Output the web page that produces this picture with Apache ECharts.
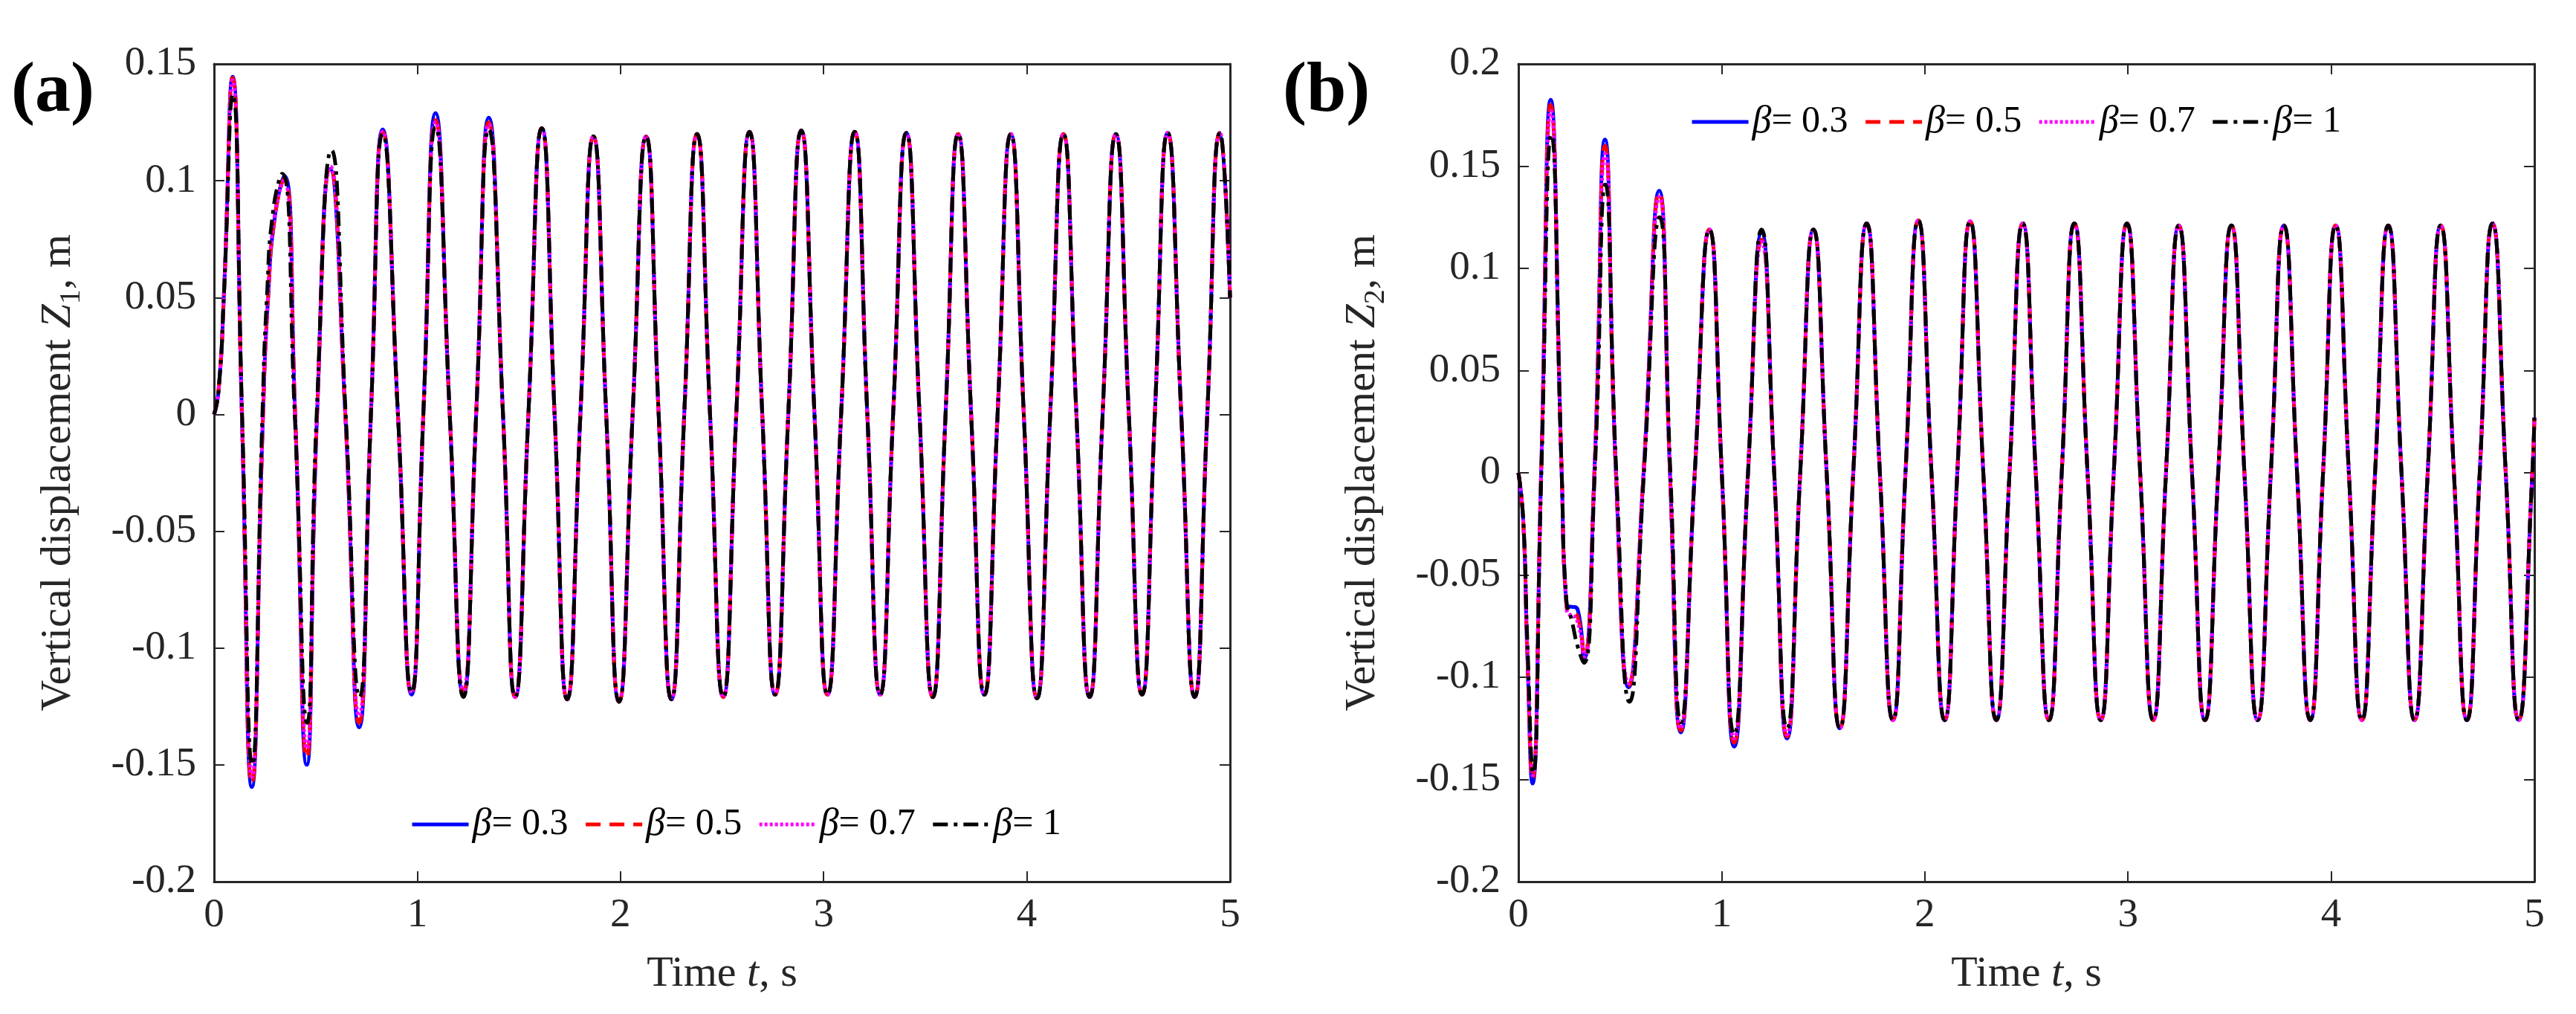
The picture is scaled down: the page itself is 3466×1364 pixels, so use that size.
<!DOCTYPE html>
<html>
<head>
<meta charset="utf-8">
<title>Vertical displacement Z1 / Z2</title>
<script src="https://cdn.jsdelivr.net/npm/echarts@6/dist/echarts.min.js"></script>
<style>
  html, body { margin: 0; padding: 0; background: #fff; }
  #chart { width: 3466px; height: 1364px; }
</style>
</head>
<body>
<div id="chart"></div>
<script>
// legend names, one per damping ratio
const betaNames = ['β = 0.3', 'β = 0.5', 'β = 0.7', 'β = 1'];

// tick values
const xTicks = [0, 1, 2, 3, 4, 5];
const yTicksA = [-0.2, -0.15, -0.1, -0.05, 0, 0.05, 0.1, 0.15];
const yTicksB = [-0.2, -0.15, -0.1, -0.05, 0, 0.05, 0.1, 0.15, 0.2];

// (a) Z1 - start-up part, read per series  [t (s), Z1 (m)]
const z1Beta03Start = [[0, 0], [0.022, 0.01], [0.048, 0.05], [0.091, 0.1445], [0.137, 0], [0.186, -0.1595], [0.241, 0], [0.266, 0.05], [0.300, 0.085], [0.346, 0.102], [0.399, 0], [0.456, -0.150], [0.507, 0], [0.571, 0.105], [0.646, 0], [0.714, -0.134], [0.772, 0], [0.830, 0.122], [0.905, 0], [0.972, -0.120], [1.030, 0], [1.090, 0.129], [1.160, 0], [1.227, -0.120], [1.290, 0], [1.352, 0.127], [1.422, 0]];
const z1Beta05Start = [[0, 0], [0.022, 0.01], [0.048, 0.05], [0.091, 0.144], [0.137, 0], [0.186, -0.158], [0.241, 0], [0.266, 0.05], [0.300, 0.085], [0.345, 0.101], [0.399, 0], [0.456, -0.147], [0.507, 0], [0.572, 0.106], [0.646, 0], [0.714, -0.132], [0.772, 0], [0.830, 0.121], [0.905, 0], [0.972, -0.1195], [1.030, 0], [1.090, 0.126], [1.160, 0], [1.227, -0.119], [1.290, 0], [1.352, 0.125], [1.422, 0]];
const z1Beta07Start = [[0, 0], [0.022, 0.01], [0.048, 0.05], [0.091, 0.143], [0.137, 0], [0.187, -0.155], [0.241, 0], [0.265, 0.05], [0.298, 0.085], [0.343, 0.100], [0.399, 0], [0.457, -0.143], [0.507, 0], [0.573, 0.106], [0.646, 0], [0.714, -0.129], [0.772, 0], [0.830, 0.121], [0.905, 0], [0.972, -0.119], [1.030, 0], [1.090, 0.125], [1.160, 0], [1.227, -0.118], [1.290, 0], [1.352, 0.124], [1.422, 0]];
const z1Beta1Start = [[0, 0], [0.022, 0.01], [0.048, 0.05], [0.092, 0.137], [0.138, 0], [0.188, -0.150], [0.238, 0], [0.260, 0.05], [0.292, 0.088], [0.335, 0.103], [0.397, 0], [0.458, -0.132], [0.505, 0], [0.578, 0.113], [0.648, 0], [0.716, -0.121], [0.772, 0], [0.830, 0.120], [0.905, 0], [0.972, -0.119], [1.030, 0], [1.090, 0.123], [1.160, 0], [1.227, -0.121], [1.290, 0], [1.352, 0.122], [1.422, 0]];
// (a) Z1 - settled oscillation, all four curves lie on top of each other
const z1Steady = [[1.482, -0.121], [1.547, 0], [1.613, 0.1225], [1.676, 0], [1.738, -0.122], [1.803, 0], [1.867, 0.119], [1.930, 0], [1.993, -0.123], [2.060, 0], [2.126, 0.119], [2.188, 0], [2.251, -0.122], [2.314, 0], [2.377, 0.120], [2.441, 0], [2.506, -0.121], [2.570, 0], [2.635, 0.121], [2.698, 0], [2.761, -0.120], [2.826, 0], [2.890, 0.1215], [2.955, 0], [3.019, -0.120], [3.086, 0], [3.153, 0.121], [3.215, 0], [3.278, -0.120], [3.342, 0], [3.407, 0.1205], [3.472, 0], [3.537, -0.121], [3.600, 0], [3.662, 0.120], [3.726, 0], [3.791, -0.120], [3.856, 0], [3.921, 0.120], [3.985, 0], [4.050, -0.1215], [4.115, 0], [4.180, 0.120], [4.244, 0], [4.309, -0.121], [4.373, 0], [4.438, 0.120], [4.502, 0], [4.567, -0.120], [4.630, 0], [4.693, 0.1205], [4.760, 0], [4.826, -0.121], [4.888, 0], [4.951, 0.1205], [5.0, 0.05]];

// (b) Z2 - start-up part  [t (s), Z2 (m)]
const z2Beta03Start = [[0, 0], [0.024, -0.024], [0.043, -0.086], [0.069, -0.152], [0.112, 0], [0.159, 0.1825], [0.213, 0], [0.236, -0.064], [0.292, -0.067], [0.322, -0.091], [0.374, 0], [0.426, 0.163], [0.480, 0], [0.542, -0.105], [0.616, 0], [0.693, 0.138], [0.746, 0], [0.799, -0.127], [0.868, 0], [0.940, 0.119], [1.001, 0], [1.062, -0.134], [1.130, 0], [1.197, 0.1175], [1.259, 0], [1.322, -0.130], [1.387, 0], [1.452, 0.119], [1.517, 0]];
const z2Beta05Start = [[0, 0], [0.024, -0.024], [0.043, -0.085], [0.069, -0.150], [0.112, 0], [0.159, 0.180], [0.213, 0], [0.237, -0.066], [0.290, -0.070], [0.322, -0.089], [0.374, 0], [0.426, 0.160], [0.480, 0], [0.542, -0.104], [0.616, 0], [0.693, 0.137], [0.746, 0], [0.799, -0.126], [0.868, 0], [0.940, 0.119], [1.001, 0], [1.062, -0.132], [1.130, 0], [1.197, 0.114], [1.259, 0], [1.322, -0.129], [1.387, 0], [1.452, 0.119], [1.517, 0]];
const z2Beta07Start = [[0, 0], [0.024, -0.024], [0.043, -0.084], [0.070, -0.148], [0.112, 0], [0.160, 0.177], [0.213, 0], [0.238, -0.067], [0.288, -0.072], [0.322, -0.090], [0.374, 0], [0.427, 0.156], [0.480, 0], [0.543, -0.103], [0.616, 0], [0.694, 0.135], [0.746, 0], [0.799, -0.125], [0.868, 0], [0.940, 0.119], [1.001, 0], [1.062, -0.130], [1.130, 0], [1.197, 0.113], [1.259, 0], [1.322, -0.128], [1.387, 0], [1.452, 0.119], [1.517, 0]];
const z2Beta1Start = [[0, 0], [0.024, -0.023], [0.044, -0.082], [0.072, -0.147], [0.113, 0], [0.162, 0.1655], [0.213, 0], [0.236, -0.062], [0.262, -0.072], [0.292, -0.085], [0.322, -0.093], [0.376, 0], [0.428, 0.141], [0.482, 0], [0.547, -0.112], [0.618, 0], [0.695, 0.125], [0.748, 0], [0.800, -0.122], [0.868, 0], [0.940, 0.119], [1.001, 0], [1.062, -0.128], [1.130, 0], [1.197, 0.119], [1.259, 0], [1.322, -0.125], [1.387, 0], [1.452, 0.119], [1.517, 0]];
// (b) Z2 - settled oscillation
const z2Steady = [[1.582, -0.125], [1.648, 0], [1.714, 0.122], [1.779, 0], [1.843, -0.121], [1.905, 0], [1.968, 0.1235], [2.033, 0], [2.098, -0.121], [2.160, 0], [2.223, 0.123], [2.288, 0], [2.352, -0.121], [2.417, 0], [2.482, 0.122], [2.546, 0], [2.611, -0.121], [2.674, 0], [2.736, 0.122], [2.801, 0], [2.866, -0.121], [2.930, 0], [2.995, 0.122], [3.060, 0], [3.124, -0.121], [3.187, 0], [3.250, 0.121], [3.315, 0], [3.379, -0.121], [3.444, 0], [3.509, 0.121], [3.573, 0], [3.638, -0.121], [3.703, 0], [3.767, 0.121], [3.832, 0], [3.897, -0.121], [3.960, 0], [4.022, 0.121], [4.087, 0], [4.151, -0.121], [4.216, 0], [4.281, 0.121], [4.346, 0], [4.410, -0.121], [4.475, 0], [4.539, 0.121], [4.604, 0], [4.668, -0.121], [4.731, 0], [4.794, 0.122], [4.859, 0], [4.923, -0.121], [4.990, 0], [5.0, 0.027]];

const z1Starts = [z1Beta03Start, z1Beta05Start, z1Beta07Start, z1Beta1Start];
const z2Starts = [z2Beta03Start, z2Beta05Start, z2Beta07Start, z2Beta1Start];

// look of each curve (MATLAB: b-, r--, m:, k-.)
const lineColors = ['#0000ff', '#ff0000', '#ff00ff', '#000000'];
const lineDashes = ['solid', [20, 12], [4, 3], [20, 8, 5, 8]];

const font = "'Liberation Serif', 'Times New Roman', serif";
const ink = '#262626';

const chart = echarts.init(document.getElementById('chart'), null, { renderer: 'canvas' });

function nameStyle() {
  return {
    fontFamily: font,
    fontSize: 58,
    color: ink,
    rich: {
      n: { fontFamily: font, fontSize: 58, color: ink, lineHeight: 74 },
      i: { fontFamily: font, fontSize: 58, color: ink, fontStyle: 'italic', lineHeight: 74 },
      s: { fontFamily: font, fontSize: 40, color: ink, lineHeight: 40, verticalAlign: 'bottom' }
    }
  };
}

function xAxisOf(grid, pos) {
  const bottom = pos === 'bottom';
  return {
    type: 'value',
    gridIndex: grid,
    position: pos,
    min: xTicks[0],
    max: xTicks[xTicks.length - 1],
    interval: 1,
    axisLine: { show: true, onZero: false, lineStyle: { color: ink, width: 3 } },
    axisTick: { show: true, inside: true, length: 14, lineStyle: { color: ink, width: 2 } },
    axisLabel: { show: bottom, margin: 18, fontFamily: font, fontSize: 55, color: ink },
    splitLine: { show: false },
    name: bottom ? '{n|Time }{i|t}{n|, s}' : '',
    nameLocation: 'middle',
    nameGap: 88,
    nameTextStyle: nameStyle()
  };
}

function yAxisOf(grid, pos, ticks, sub) {
  const left = pos === 'left';
  return {
    type: 'value',
    gridIndex: grid,
    position: pos,
    min: ticks[0],
    max: ticks[ticks.length - 1],
    interval: 0.05,
    axisLine: { show: true, onZero: false, lineStyle: { color: ink, width: 3 } },
    axisTick: { show: true, inside: true, length: 14, lineStyle: { color: ink, width: 2 } },
    axisLabel: { show: left, margin: 24, fontFamily: font, fontSize: 55, color: ink },
    splitLine: { show: false },
    name: left ? '{n|Vertical displacement }{i|Z}{s|' + sub + '}{n|, m}' : '',
    nameLocation: 'middle',
    nameRotate: 90,
    nameGap: 172,
    nameTextStyle: nameStyle()
  };
}

function makeSeries(panel, starts, steady) {
  return betaNames.map((name, i) => ({
    name: name,
    type: 'line',
    xAxisIndex: panel * 2,
    yAxisIndex: panel * 2,
    data: starts[i].concat(steady),
    symbol: 'none',
    showSymbol: false,
    smooth: 0.55,
    lineStyle: { color: lineColors[i], width: 5, type: lineDashes[i] },
    itemStyle: { color: lineColors[i] }
  }));
}

function legendAt(left, top) {
  return {
    data: betaNames,
    orient: 'horizontal',
    left: left,
    top: top,
    padding: 0,
    itemGap: 21,
    itemWidth: 76,
    itemHeight: 50,
    lineStyle: { width: 5 },
    itemStyle: { opacity: 0 },
    selectedMode: false,
    // MATLAB TeX: "\beta = 0.3" shows as an italic beta tight against "="
    formatter: (name) => '{i|β}{n|' + name.substring(2) + '}',
    textStyle: {
      fontFamily: font,
      fontSize: 50,
      color: '#000',
      rich: {
        i: { fontFamily: font, fontSize: 52, fontStyle: 'italic', color: '#000' },
        n: { fontFamily: font, fontSize: 50, color: '#000' }
      }
    }
  };
}

const option = {
  backgroundColor: '#ffffff',
  animation: false,
  title: [
    { text: '(a)', left: 15, top: 76, padding: 0,
      textStyle: { fontFamily: font, fontWeight: 'bold', fontSize: 96, color: '#000' } },
    { text: '(b)', left: 1726, top: 76, padding: 0,
      textStyle: { fontFamily: font, fontWeight: 'bold', fontSize: 96, color: '#000' } }
  ],
  legend: [legendAt(552, 1083), legendAt(2274, 138)],
  grid: [
    { left: 288, top: 86, width: 1367, height: 1100, containLabel: false },
    { left: 2043, top: 86, width: 1367, height: 1100, containLabel: false }
  ],
  xAxis: [xAxisOf(0, 'bottom'), xAxisOf(0, 'top'), xAxisOf(1, 'bottom'), xAxisOf(1, 'top')],
  yAxis: [
    yAxisOf(0, 'left', yTicksA, '1'), yAxisOf(0, 'right', yTicksA, '1'),
    yAxisOf(1, 'left', yTicksB, '2'), yAxisOf(1, 'right', yTicksB, '2')
  ],
  series: makeSeries(0, z1Starts, z1Steady).concat(makeSeries(1, z2Starts, z2Steady))
};

chart.setOption(option);
</script>
</body>
</html>
